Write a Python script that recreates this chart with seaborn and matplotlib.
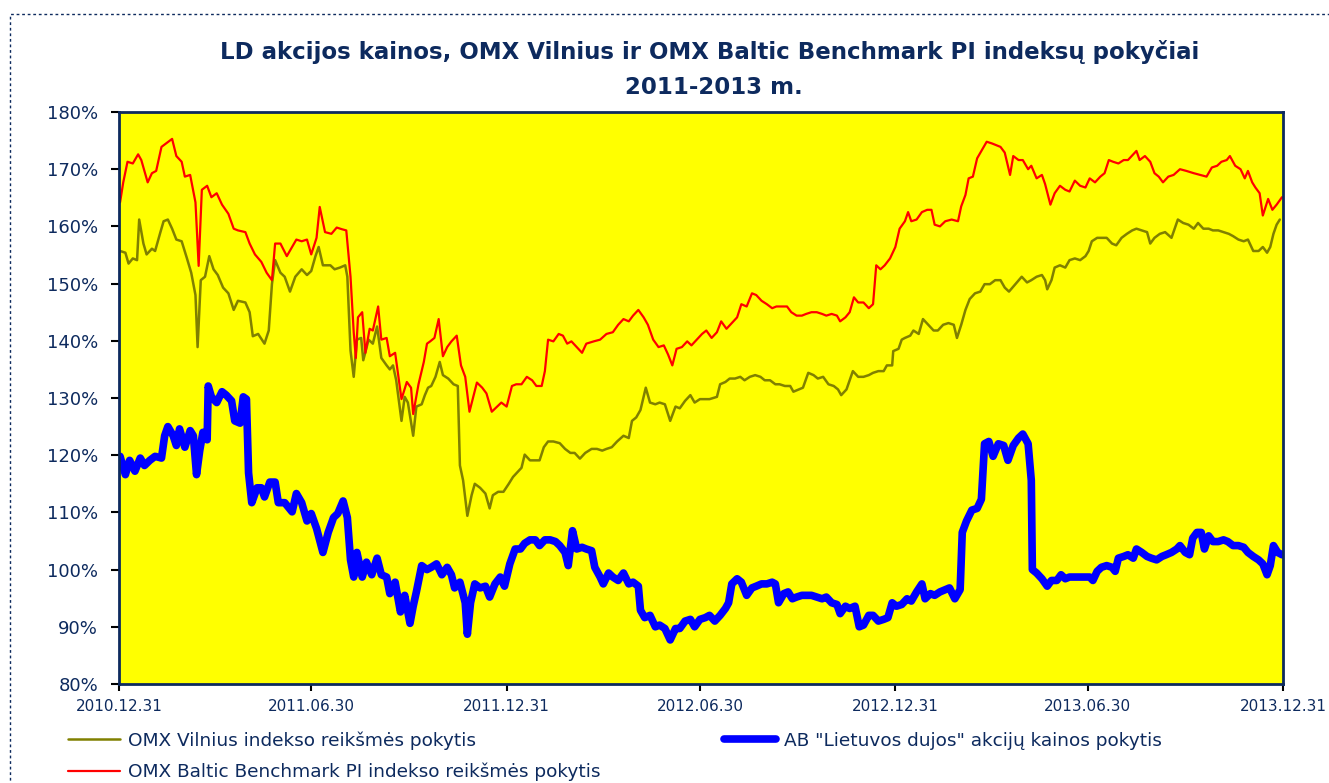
import matplotlib
matplotlib.use("Agg")
import matplotlib.pyplot as plt
import matplotlib.dates as mdates
from matplotlib.patches import Rectangle
import seaborn as sns
import pandas as pd

# ---------------- data (days after 2010-12-31, value in %) ----------------
baltic_days = [1, 4, 8, 13, 18, 21, 27, 31, 35, 40, 50, 54, 59, 62, 67, 72, 75, 78, 83, 87,
               92, 97, 103, 108, 112, 119, 123, 128, 134, 139, 144, 147, 152, 158, 163, 167, 172, 177, 181, 186,
               189, 194, 200, 205, 210, 214, 218, 221, 223, 225, 229, 232, 236, 239, 244, 247, 252, 255, 260, 266,
               271, 275, 277, 282, 287, 290, 293, 297, 301, 305, 309, 313, 318, 322, 326, 330, 334, 337, 342, 346,
               351, 356, 360, 365, 370, 374, 379, 384, 389, 393, 398, 401, 404, 409, 414, 418, 422, 426, 431, 436,
               440, 447, 453, 459, 465, 470, 475, 480, 484, 489, 494, 498, 503, 508, 513, 517, 521, 525, 530, 535,
               539, 544, 549, 553, 558, 563, 567, 572, 577, 582, 586, 591, 596, 600, 605, 610, 615, 619, 624, 629,
               633, 638, 643, 647, 652, 657, 662, 666, 671, 676, 679, 684, 688, 692, 696, 701, 706, 710, 713, 717,
               721, 726, 731, 735, 740, 743, 746, 751, 756, 761, 765, 768, 773, 778, 784, 790, 793, 797, 800, 804,
               808, 812, 817, 822, 826, 830, 834, 839, 842, 847, 851, 856, 859, 864, 869, 872, 877, 881, 886, 891,
               895, 900, 905, 910, 914, 919, 924, 928, 932, 936, 941, 946, 950, 955, 958, 961, 966, 971, 975, 979,
               983, 988, 993, 999, 1005, 1012, 1018, 1024, 1029, 1034, 1038, 1043, 1046, 1051, 1056, 1060, 1063, 1067, 1070, 1074,
               1077, 1082, 1086, 1090, 1095]
baltic_vals = [164.2, 167.7, 171.3, 171.0, 172.6, 171.6, 167.7, 169.3, 169.7, 173.9, 175.3, 172.3, 171.3, 168.7, 169.0, 164.2, 153.1, 166.4, 167.1, 165.1,
               165.8, 163.8, 162.2, 159.6, 159.3, 159.0, 157.0, 155.1, 153.8, 151.9, 150.6, 157.0, 157.0, 154.8, 156.4, 157.7, 157.4, 157.7, 155.1, 158.0,
               163.4, 159.0, 158.7, 159.8, 159.5, 159.3, 151.2, 141.5, 137.0, 144.1, 145.0, 137.9, 142.1, 141.8, 146.0, 140.2, 140.5, 137.3, 137.9, 129.8,
               132.8, 131.8, 127.2, 132.4, 136.3, 139.5, 139.9, 140.5, 143.8, 137.3, 138.9, 139.9, 140.9, 135.7, 133.7, 127.6, 130.5, 132.7, 131.8, 130.8,
               127.6, 128.5, 129.2, 128.5, 132.1, 132.4, 132.4, 133.7, 133.1, 132.1, 132.1, 134.7, 140.2, 139.9, 141.2, 140.9, 139.5, 139.9, 138.9, 137.9,
               139.5, 139.9, 140.2, 141.2, 141.5, 142.8, 143.8, 143.4, 144.4, 145.4, 144.1, 142.8, 140.2, 138.9, 139.2, 137.6, 135.7, 138.6, 138.9, 139.9,
               139.2, 140.2, 141.2, 141.8, 140.5, 141.5, 143.4, 142.1, 143.1, 144.1, 146.4, 146.0, 148.3, 148.0, 147.0, 146.4, 145.7, 146.0, 146.0, 146.0,
               145.0, 144.4, 144.4, 144.7, 145.0, 145.0, 144.7, 144.4, 144.7, 144.4, 143.4, 144.1, 145.0, 147.6, 146.7, 146.7, 145.7, 146.4, 153.2, 152.5,
               153.2, 154.4, 156.4, 159.6, 160.9, 162.5, 160.9, 161.2, 162.5, 162.9, 162.9, 160.3, 160.0, 160.9, 161.2, 160.9, 163.5, 165.5, 168.4, 168.7,
               171.9, 173.2, 174.8, 174.5, 174.2, 173.9, 172.9, 169.0, 172.3, 171.6, 171.6, 170.0, 170.6, 168.4, 169.0, 167.4, 163.8, 165.8, 167.1, 166.4,
               166.1, 168.0, 167.1, 166.8, 168.4, 167.7, 168.7, 169.3, 171.6, 171.3, 171.0, 171.6, 171.6, 172.6, 173.2, 171.6, 172.3, 171.3, 169.3, 168.7,
               167.7, 168.7, 169.0, 170.0, 169.7, 169.3, 169.0, 168.7, 170.3, 170.6, 171.3, 171.6, 172.3, 170.6, 170.0, 168.4, 169.7, 167.7, 166.8, 165.8,
               161.9, 164.8, 162.9, 163.8, 165.1]

vilnius_days = [1, 6, 9, 13, 17, 19, 23, 26, 31, 34, 39, 42, 46, 50, 54, 59, 64, 68, 72, 74,
                77, 81, 85, 89, 93, 98, 103, 108, 112, 119, 123, 126, 131, 137, 141, 144, 147, 152, 156, 161,
                166, 172, 177, 181, 185, 188, 192, 199, 203, 208, 213, 215, 218, 221, 224, 228, 230, 235, 239, 243,
                247, 252, 255, 258, 261, 266, 269, 272, 277, 280, 285, 288, 291, 294, 298, 302, 305, 310, 315, 319,
                321, 324, 328, 332, 335, 340, 345, 349, 352, 357, 362, 367, 371, 376, 379, 382, 387, 392, 396, 400,
                404, 409, 415, 420, 425, 429, 434, 439, 445, 450, 455, 459, 464, 469, 475, 480, 483, 487, 491, 494,
                496, 500, 505, 509, 514, 519, 524, 528, 533, 538, 542, 547, 553, 556, 563, 566, 571, 575, 580, 585,
                589, 594, 599, 604, 608, 613, 618, 622, 627, 632, 635, 640, 644, 649, 654, 658, 663, 668, 673, 677,
                680, 685, 691, 696, 701, 706, 710, 715, 720, 723, 728, 729, 734, 737, 740, 745, 748, 753, 757, 762,
                767, 771, 776, 781, 786, 789, 793, 797, 801, 806, 811, 815, 820, 825, 830, 834, 838, 844, 850, 855,
                859, 864, 869, 872, 874, 878, 881, 886, 891, 895, 900, 905, 910, 913, 916, 921, 925, 930, 935, 939,
                944, 949, 954, 958, 963, 968, 971, 975, 980, 985, 991, 997, 1002, 1007, 1012, 1016, 1021, 1026, 1030, 1035,
                1040, 1045, 1049, 1054, 1059, 1063, 1068, 1073, 1077, 1081, 1084, 1087, 1090, 1093]
vilnius_vals = [155.7, 155.4, 153.5, 154.4, 154.1, 161.2, 157.0, 155.1, 156.1, 155.7, 159.0, 160.9, 161.2, 159.6, 157.7, 157.4, 154.4, 151.9, 148.0, 138.9,
                150.6, 151.2, 154.8, 152.5, 151.5, 149.3, 148.3, 145.4, 147.0, 146.7, 145.0, 140.8, 141.2, 139.5, 141.8, 149.9, 154.1, 151.9, 151.2, 148.6,
                151.2, 152.5, 151.5, 152.2, 154.8, 156.4, 153.2, 153.2, 152.5, 152.8, 153.2, 151.2, 138.3, 133.7, 140.2, 140.5, 136.6, 140.2, 139.5, 142.5,
                137.0, 135.7, 135.0, 135.7, 133.1, 126.0, 130.2, 129.2, 123.4, 128.5, 128.9, 130.5, 131.8, 132.1, 133.7, 136.3, 134.0, 133.4, 132.4, 132.1,
                118.2, 115.6, 109.4, 113.0, 115.0, 114.3, 113.3, 110.7, 113.0, 113.6, 113.6, 115.0, 116.2, 117.2, 117.8, 120.1, 119.1, 119.1, 119.1, 121.4,
                122.4, 122.4, 122.1, 121.1, 120.4, 120.4, 119.4, 120.4, 121.1, 121.1, 120.8, 121.1, 121.4, 122.4, 123.4, 123.0, 126.0, 126.6, 127.9, 130.2,
                131.8, 129.2, 128.9, 129.2, 128.9, 126.0, 128.5, 128.2, 129.5, 130.5, 129.2, 129.8, 129.8, 129.8, 130.2, 132.4, 132.8, 133.4, 133.4, 133.7,
                133.1, 133.7, 134.0, 133.7, 133.1, 133.1, 132.4, 132.4, 132.1, 132.1, 131.1, 131.5, 131.8, 134.4, 134.0, 133.4, 133.7, 132.4, 132.1, 131.5,
                130.5, 131.5, 134.7, 133.7, 133.7, 134.0, 134.4, 134.7, 134.7, 135.7, 135.7, 138.2, 138.6, 140.2, 140.5, 140.9, 141.8, 141.2, 143.8, 142.8,
                141.8, 141.8, 142.8, 143.1, 142.8, 140.5, 142.8, 145.4, 147.3, 148.3, 148.6, 149.9, 149.9, 150.6, 150.6, 149.3, 148.6, 149.9, 151.2, 150.2,
                150.6, 151.2, 151.5, 150.6, 149.0, 150.6, 152.8, 153.2, 152.8, 154.1, 154.4, 154.1, 154.8, 155.7, 157.4, 158.0, 158.0, 158.0, 157.0, 156.7,
                158.0, 158.7, 159.3, 159.6, 159.3, 159.0, 157.0, 158.0, 158.7, 159.0, 158.0, 161.2, 160.6, 160.3, 159.6, 160.6, 159.6, 159.6, 159.3, 159.3,
                159.0, 158.7, 158.3, 157.7, 157.4, 157.7, 155.7, 155.7, 156.4, 155.4, 156.4, 158.7, 160.3, 161.2]

ld_days = [1, 6, 10, 15, 20, 24, 29, 34, 40, 43, 46, 51, 54, 57, 62, 67, 70, 73, 76, 79,
           83, 84, 87, 92, 97, 101, 106, 109, 114, 117, 120, 122, 125, 130, 134, 137, 142, 147, 150, 156,
           163, 167, 172, 177, 181, 186, 192, 197, 202, 206, 211, 215, 218, 221, 224, 229, 233, 238, 243, 247,
           252, 255, 260, 265, 269, 274, 277, 280, 285, 290, 294, 299, 304, 309, 313, 316, 321, 326, 328, 331,
           335, 340, 345, 349, 354, 359, 363, 368, 373, 378, 382, 387, 392, 396, 401, 406, 411, 415, 420, 423,
           427, 431, 436, 440, 445, 448, 453, 456, 461, 465, 470, 475, 480, 484, 489, 491, 495, 500, 505, 509,
           514, 519, 524, 528, 533, 538, 542, 547, 552, 556, 561, 566, 571, 574, 577, 582, 586, 591, 596, 600,
           605, 610, 615, 618, 621, 626, 630, 634, 638, 643, 647, 652, 657, 662, 666, 671, 676, 679, 684, 688,
           693, 697, 701, 706, 710, 715, 720, 724, 728, 732, 737, 742, 746, 751, 756, 759, 764, 768, 773, 778,
           782, 787, 792, 794, 798, 803, 808, 812, 815, 819, 823, 828, 833, 837, 842, 847, 851, 856, 859, 860,
           864, 869, 874, 878, 883, 887, 891, 895, 905, 914, 917, 921, 925, 930, 935, 938, 941, 946, 950, 955,
           958, 963, 968, 972, 977, 982, 986, 991, 996, 999, 1004, 1008, 1011, 1015, 1019, 1022, 1026, 1030, 1035, 1040,
           1044, 1049, 1054, 1059, 1063, 1068, 1073, 1077, 1081, 1084, 1087, 1091, 1095]
ld_vals = [119.8, 116.6, 119.1, 117.2, 119.5, 118.2, 119.1, 119.8, 119.5, 123.4, 125.0, 123.4, 121.7, 124.6, 121.4, 124.3, 123.4, 116.6, 120.8, 124.0,
           122.7, 132.1, 130.2, 129.2, 131.1, 130.5, 129.5, 126.0, 125.6, 130.2, 129.8, 116.9, 111.7, 114.3, 114.3, 112.7, 115.3, 115.3, 111.7, 111.7,
           110.1, 113.3, 111.7, 108.5, 109.8, 107.2, 103.0, 106.5, 109.1, 109.8, 112.0, 109.1, 101.7, 98.7, 103.0, 98.7, 101.3, 99.1, 102.0, 99.1,
           98.7, 95.8, 97.8, 92.6, 95.5, 90.6, 93.6, 96.1, 100.7, 100.0, 100.4, 101.0, 99.1, 100.4, 99.1, 96.8, 97.8, 94.2, 88.7, 94.2,
           97.5, 96.8, 97.1, 95.2, 97.5, 98.7, 97.1, 101.0, 103.6, 103.6, 104.6, 105.2, 105.2, 104.2, 105.2, 105.2, 104.9, 104.2, 103.0, 100.7,
           106.8, 103.6, 103.9, 103.6, 103.3, 100.4, 98.7, 97.5, 99.4, 98.7, 98.1, 99.4, 97.5, 97.8, 97.1, 92.9, 91.6, 92.0, 90.0, 90.3,
           89.7, 87.7, 89.7, 89.7, 91.0, 91.3, 90.0, 91.3, 91.6, 92.0, 91.0, 92.0, 93.2, 94.2, 97.5, 98.4, 97.8, 95.5, 96.8, 97.1,
           97.5, 97.5, 97.8, 97.5, 94.2, 95.8, 96.1, 94.9, 95.2, 95.5, 95.5, 95.5, 95.2, 94.9, 95.2, 94.2, 93.9, 92.3, 93.6, 93.2,
           93.6, 90.0, 90.3, 92.0, 92.0, 91.0, 91.3, 91.6, 94.2, 93.6, 93.9, 94.9, 94.5, 96.1, 97.5, 94.9, 95.8, 95.5, 96.1, 96.5,
           96.8, 94.9, 96.5, 106.5, 108.5, 110.4, 110.7, 112.3, 122.0, 122.4, 119.8, 122.0, 121.7, 119.1, 121.7, 123.0, 123.7, 122.0, 115.6, 100.0,
           99.4, 98.4, 97.1, 98.1, 98.1, 99.1, 98.4, 98.7, 98.7, 98.7, 98.1, 99.7, 100.4, 100.7, 100.4, 99.7, 102.0, 102.3, 102.6, 102.0,
           103.6, 103.0, 102.3, 102.0, 101.7, 102.3, 102.6, 103.0, 103.6, 104.2, 103.0, 102.6, 105.5, 106.5, 106.5, 103.6, 105.9, 104.9, 104.9, 105.2,
           104.9, 104.2, 104.2, 103.9, 103.0, 102.3, 101.7, 101.0, 99.1, 100.7, 104.2, 103.0, 102.6]

start_date = "2010-12-31"
tick_dates = ["2010-12-31", "2011-06-30", "2011-12-31", "2012-06-30",
              "2012-12-31", "2013-06-30", "2013-12-31"]
y_ticks = [80, 90, 100, 110, 120, 130, 140, 150, 160, 170, 180]

label_vilnius = "OMX Vilnius indekso reikšmės pokytis"
label_baltic = "OMX Baltic Benchmark PI indekso reikšmės pokytis"
label_ld = "AB \"Lietuvos dujos\" akcijų kainos pokytis"
title_1 = "LD akcijos kainos, OMX Vilnius ir OMX Baltic Benchmark PI indeksų pokyčiai"
title_2 = "2011-2013 m."

# ---------------- build frames ----------------
base = pd.Timestamp(start_date)
def frame(days, vals):
    return pd.DataFrame({"date": base + pd.to_timedelta(days, unit="D"), "value": vals})

df_b = frame(baltic_days, baltic_vals)
df_v = frame(vilnius_days, vilnius_vals)
df_l = frame(ld_days, ld_vals)

# ---------------- style ----------------
sns.set_style("white")
plt.rcParams["font.family"] = ["DejaVu Sans"]
NAVY = "#0d2a5e"

fig = plt.figure(figsize=(13.29, 7.83), dpi=100)
ax = fig.add_axes([119 / 1329, 1 - 684 / 783, (1283 - 119) / 1329, (684 - 112) / 783])
ax.set_facecolor("#ffff00")

sns.lineplot(data=df_v, x="date", y="value", ax=ax, color="#808000", lw=1.8, label=label_vilnius)
sns.lineplot(data=df_b, x="date", y="value", ax=ax, color="#ff0000", lw=1.6, label=label_baltic)
sns.lineplot(data=df_l, x="date", y="value", ax=ax, color="#0000ff", lw=5.5, label=label_ld)

ax.set_xlim(pd.Timestamp(tick_dates[0]), pd.Timestamp(tick_dates[-1]))
ax.set_ylim(80, 180)
ax.set_yticks(y_ticks)
ax.set_yticklabels([f"{t}%" for t in y_ticks])
ax.set_xticks([pd.Timestamp(d) for d in tick_dates])
ax.xaxis.set_major_formatter(mdates.DateFormatter("%Y.%m.%d"))
ax.set_xlabel("")
ax.set_ylabel("")

for s in ax.spines.values():
    s.set_visible(True)
    s.set_color(NAVY)
    s.set_linewidth(2.0)
ax.tick_params(axis="y", direction="out", length=6, width=1.5, color="black",
               labelsize=13, labelcolor=NAVY, pad=9, left=True)
ax.tick_params(axis="x", direction="out", length=5, width=1.5, color="black",
               labelsize=11, labelcolor=NAVY, pad=6, bottom=True)
ax.grid(False)

# legend
handles, labels = ax.get_legend_handles_labels()
ax.get_legend().remove()
order = [labels.index(label_vilnius), labels.index(label_baltic), labels.index(label_ld)]
leg = fig.legend([handles[i] for i in order], [labels[i] for i in order],
                 loc="upper left", bbox_to_anchor=(68 / 1329, 1 - 731 / 783),
                 ncol=2, frameon=False, fontsize=13.3, handlelength=2.8, handletextpad=0.45,
                 columnspacing=6.7, labelspacing=0.72, borderpad=0, borderaxespad=0)
for t in leg.get_texts():
    t.set_color(NAVY)

# title
fig.text(710 / 1329, 1 - 52 / 783, title_1, ha="center", va="center",
         fontsize=16.5, fontweight="bold", color=NAVY)
fig.text(714 / 1329, 1 - 87 / 783, title_2, ha="center", va="center",
         fontsize=16.5, fontweight="bold", color=NAVY)

# dashed outer border
fig.patches.append(Rectangle((10 / 1329, -0.05), 1.2, 1 - 14 / 783 + 0.05,
                             transform=fig.transFigure, fill=False,
                             edgecolor=NAVY, lw=1.0, linestyle=(0, (2, 2))))

fig.savefig("out.png", dpi=100)
